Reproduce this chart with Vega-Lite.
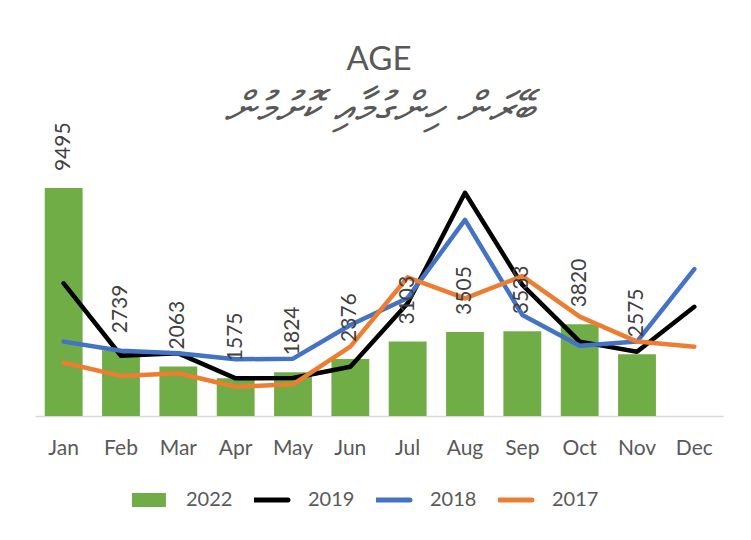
{
  "$schema": "https://vega.github.io/schema/vega-lite/v6.json",
  "width": 688,
  "height": 240,
  "autosize": {"type": "none"},
  "padding": {"left": 35, "top": 176, "right": 28, "bottom": 124},
  "background": "white",
  "config": {"view": {"stroke": null}},
  "title": {
    "text": "AGE",
    "subtitle": "ބޭރަން ހިންގުމާއި ކޮށުމުން",
    "anchor": "middle",
    "frame": "group",
    "font": "Lato",
    "fontSize": 33,
    "fontWeight": "normal",
    "color": "#595959",
    "subtitleFont": "DejaVu Sans",
    "subtitleFontStyle": "italic",
    "subtitleFontSize": 44,
    "subtitleColor": "#595959",
    "subtitlePadding": 11,
    "offset": -10
  },
  "data": {
    "values": [
      {"month": "Jan", "series": "2022", "value": 9495},
      {"month": "Feb", "series": "2022", "value": 2739},
      {"month": "Mar", "series": "2022", "value": 2063},
      {"month": "Apr", "series": "2022", "value": 1575},
      {"month": "May", "series": "2022", "value": 1824},
      {"month": "Jun", "series": "2022", "value": 2376},
      {"month": "Jul", "series": "2022", "value": 3103},
      {"month": "Aug", "series": "2022", "value": 3505},
      {"month": "Sep", "series": "2022", "value": 3533},
      {"month": "Oct", "series": "2022", "value": 3820},
      {"month": "Nov", "series": "2022", "value": 2575},
      {"month": "Jan", "series": "2019", "value": 5530},
      {"month": "Feb", "series": "2019", "value": 2510},
      {"month": "Mar", "series": "2019", "value": 2610},
      {"month": "Apr", "series": "2019", "value": 1570},
      {"month": "May", "series": "2019", "value": 1580},
      {"month": "Jun", "series": "2019", "value": 2050},
      {"month": "Jul", "series": "2019", "value": 4700},
      {"month": "Aug", "series": "2019", "value": 9300},
      {"month": "Sep", "series": "2019", "value": 5460},
      {"month": "Oct", "series": "2019", "value": 3100},
      {"month": "Nov", "series": "2019", "value": 2680},
      {"month": "Dec", "series": "2019", "value": 4550},
      {"month": "Jan", "series": "2018", "value": 3100},
      {"month": "Feb", "series": "2018", "value": 2720},
      {"month": "Mar", "series": "2018", "value": 2610},
      {"month": "Apr", "series": "2018", "value": 2360},
      {"month": "May", "series": "2018", "value": 2390},
      {"month": "Jun", "series": "2018", "value": 3790},
      {"month": "Jul", "series": "2018", "value": 4920},
      {"month": "Aug", "series": "2018", "value": 8170},
      {"month": "Sep", "series": "2018", "value": 4210},
      {"month": "Oct", "series": "2018", "value": 2930},
      {"month": "Nov", "series": "2018", "value": 3100},
      {"month": "Dec", "series": "2018", "value": 6120},
      {"month": "Jan", "series": "2017", "value": 2220},
      {"month": "Feb", "series": "2017", "value": 1670},
      {"month": "Mar", "series": "2017", "value": 1780},
      {"month": "Apr", "series": "2017", "value": 1220},
      {"month": "May", "series": "2017", "value": 1320},
      {"month": "Jun", "series": "2017", "value": 2890},
      {"month": "Jul", "series": "2017", "value": 5780},
      {"month": "Aug", "series": "2017", "value": 4900},
      {"month": "Sep", "series": "2017", "value": 5830},
      {"month": "Oct", "series": "2017", "value": 4140},
      {"month": "Nov", "series": "2017", "value": 3100},
      {"month": "Dec", "series": "2017", "value": 2890}
    ]
  },
  "encoding": {
    "x": {
      "field": "month",
      "type": "ordinal",
      "sort": ["Jan", "Feb", "Mar", "Apr", "May", "Jun", "Jul", "Aug", "Sep", "Oct", "Nov", "Dec"],
      "scale": {"paddingInner": 0.34, "paddingOuter": 0.17},
      "axis": {
        "title": null,
        "labelAngle": 0,
        "labelFont": "Lato",
        "labelFontSize": 21,
        "labelColor": "#595959",
        "ticks": false,
        "domainColor": "#D9D9D9",
        "domainWidth": 1.5,
        "labelPadding": 21,
        "grid": false
      }
    },
    "y": {
      "field": "value",
      "type": "quantitative",
      "scale": {"domain": [0, 10000]},
      "axis": null
    }
  },
  "layer": [
    {
      "transform": [{"filter": "datum.series == '2022'"}],
      "mark": {"type": "bar"},
      "encoding": {
        "color": {
          "field": "series",
          "type": "nominal",
          "scale": {
            "domain": ["2022", "2019", "2018", "2017"],
            "range": ["#70AD47", "#000000", "#4472C4", "#ED7D31"]
          },
          "legend": {
            "title": null,
            "orient": "none",
            "legendX": 97,
            "legendY": 312,
            "direction": "horizontal",
            "labelFont": "Lato",
            "labelFontSize": 20,
            "labelColor": "#595959",
            "symbolType": "stroke",
            "symbolSize": 2300,
            "clipHeight": 24,
            "columnPadding": 21,
            "labelOffset": 34,
            "encode": {
              "symbols": {
                "update": {
                  "size": {"value": 2300},
                  "fill": {"value": "transparent"},
                  "stroke": {"signal": "datum.value == '2022' ? '#70AD47' : datum.value == '2019' ? '#000000' : datum.value == '2018' ? '#4472C4' : '#ED7D31'"},
                  "strokeWidth": {"signal": "datum.value == '2022' ? 14 : 5"},
                  "strokeCap": {"signal": "datum.value == '2022' ? 'butt' : 'round'"},
                  "opacity": {"value": 1}
                }
              }
            }
          }
        }
      }
    },
    {
      "transform": [{"filter": "datum.series != '2022'"}],
      "mark": {"type": "line", "strokeWidth": 4.5, "strokeCap": "round", "strokeJoin": "round"},
      "encoding": {
        "color": {"field": "series", "type": "nominal"}
      }
    },
    {
      "transform": [{"filter": "datum.series == '2022'"}],
      "mark": {"type": "text", "angle": 270, "align": "left", "baseline": "middle", "dx": 17, "font": "Lato", "fontSize": 21, "color": "#404040"},
      "encoding": {
        "text": {"field": "value", "type": "quantitative", "format": "d"}
      }
    }
  ]
}
